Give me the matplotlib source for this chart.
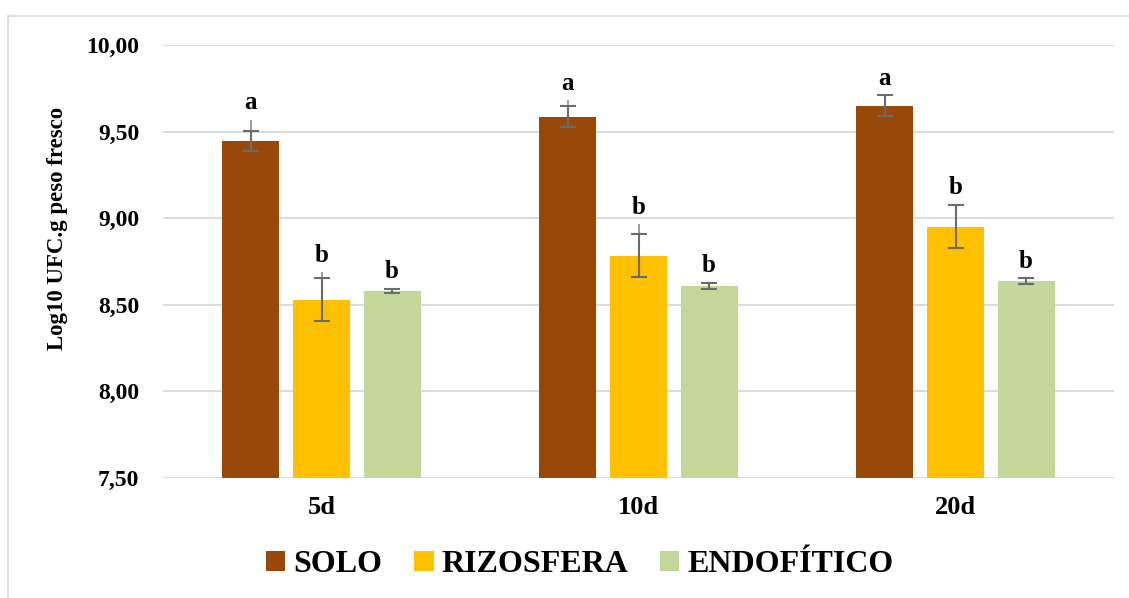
import numpy as np
import matplotlib.pyplot as plt
from matplotlib.patches import Patch
from matplotlib.lines import Line2D

# data
days = ['5d', '10d', '20d']
series = ['SOLO', 'RIZOSFERA', 'ENDOFÍTICO']
solo = [9.446, 9.586, 9.650]
rizosfera = [8.528, 8.783, 8.951]
endofitico = [8.581, 8.610, 8.637]
solo_err = [0.060, 0.062, 0.060]
rizosfera_err = [0.124, 0.123, 0.125]
endofitico_err = [0.013, 0.017, 0.017]
# the upper whisker runs a bit past the top cap in the original
solo_top = [9.567, 9.682, 9.709]
rizosfera_top = [8.689, 8.965, 9.076]
endofitico_top = [8.594, 8.627, 8.654]
letters = [['a', 'a', 'a'], ['b', 'b', 'b'], ['b', 'b', 'b']]
colors = ['#984807', '#FFC000', '#C4D79B']

plt.rcParams['font.family'] = ['Liberation Serif', 'DejaVu Serif']
plt.rcParams['font.weight'] = 'bold'

fig = plt.figure(figsize=(11.29, 5.98), dpi=100)
ax = fig.add_axes([163/1129, 1-478/598, (1114-163)/1129, (478-45)/598])

x = np.arange(len(days))
width = 0.18
pitch = 0.2225
values = [solo, rizosfera, endofitico]
errs = [solo_err, rizosfera_err, endofitico_err]
tops = [solo_top, rizosfera_top, endofitico_top]

for i in range(3):
    pos = x + (i - 1)*pitch
    ax.bar(pos, np.array(values[i]) - 7.5, width, bottom=7.5, color=colors[i], zorder=3)
    # extra whisker above the cap
    ax.vlines(pos, np.array(values[i]) + np.array(errs[i]), tops[i], color='#8c8c8c', lw=1.2, zorder=4)
    ax.errorbar(pos, values[i], yerr=errs[i], fmt='none', ecolor='#6b6b6b', elinewidth=1.5,
                capsize=6, capthick=1.5, zorder=5)
    for j in range(3):
        ax.annotate(letters[i][j], (pos[j], tops[i][j]), xytext=(0, 4), textcoords='offset points',
                    ha='center', va='bottom', fontsize=18, fontweight='bold')

ax.set_ylim(7.5, 10.0)
ax.set_xlim(-0.5, 2.5)
ax.set_yticks([7.5, 8.0, 8.5, 9.0, 9.5, 10.0])
ax.set_yticklabels(['7,50', '8,00', '8,50', '9,00', '9,50', '10,00'])
ax.set_xticks(x)
ax.set_xticklabels(days)
ax.tick_params(axis='y', length=0, pad=17, labelsize=17)
ax.tick_params(axis='x', length=0, pad=13, labelsize=19)
for t in ax.get_xticklabels() + ax.get_yticklabels():
    t.set_fontweight('bold')
ax.grid(axis='y', color='#D9D9D9', lw=1.3, zorder=0)
for s in ax.spines.values():
    s.set_visible(False)

fig.text(58/1129, 1-228/598, 'Log10 UFC.g peso fresco', rotation=90, ha='center', va='center',
         fontsize=16.5, fontweight='bold')

handles = [Patch(facecolor=c) for c in colors]
fig.legend(handles, series, loc='center', bbox_to_anchor=(580/1129, 1-565/598), ncol=3, frameon=False,
           prop={'size': 23, 'weight': 'bold'}, handlelength=0.6, handleheight=0.6,
           handletextpad=0.25, columnspacing=1.0)

# outer chart border (top and left visible)
fig.add_artist(Line2D([8/1129, 1.0], [1-16/598, 1-16/598], color='#D9D9D9', lw=1.2))
fig.add_artist(Line2D([8/1129, 8/1129], [0, 1-16/598], color='#D9D9D9', lw=1.2))

fig.savefig('out.png', dpi=100)
